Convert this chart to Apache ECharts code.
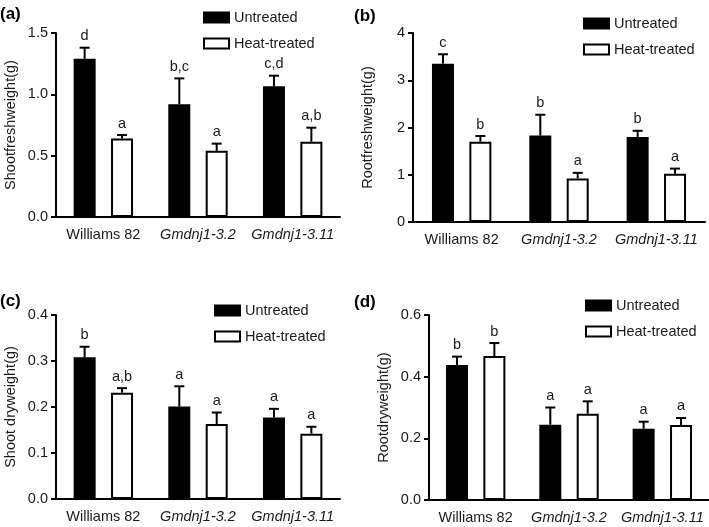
<!DOCTYPE html>
<html><head><meta charset="utf-8">
<script src="https://cdn.jsdelivr.net/npm/echarts@6/dist/echarts.min.js"></script>
<style>html,body{margin:0;padding:0;background:#fff}#c{width:709px;height:527px}</style>
</head><body><div id="c"></div>
<script>
const categories = ['Williams 82', 'Gmdnj1-3.2', 'Gmdnj1-3.11'];
const seriesNames = ['Untreated', 'Heat-treated'];

// (a) Shoot fresh weight
const shootFreshUntreated = [1.29, 0.92, 1.065];
const shootFreshUntreatedSD = [0.09, 0.21, 0.087];
const shootFreshHeat = [0.64, 0.54, 0.614];
const shootFreshHeatSD = [0.028, 0.058, 0.114];
const shootFreshUntreatedLetters = ['d', 'b,c', 'c,d'];
const shootFreshHeatLetters = ['a', 'a', 'a,b'];

// (b) Root fresh weight
const rootFreshUntreated = [3.35, 1.83, 1.80];
const rootFreshUntreatedSD = [0.20, 0.44, 0.13];
const rootFreshHeat = [1.70, 0.92, 1.02];
const rootFreshHeatSD = [0.12, 0.12, 0.11];
const rootFreshUntreatedLetters = ['c', 'b', 'b'];
const rootFreshHeatLetters = ['b', 'a', 'a'];

// (c) Shoot dry weight
const shootDryUntreated = [0.308, 0.201, 0.177];
const shootDryUntreatedSD = [0.023, 0.044, 0.019];
const shootDryHeat = [0.231, 0.163, 0.142];
const shootDryHeatSD = [0.010, 0.025, 0.015];
const shootDryUntreatedLetters = ['b', 'a', 'a'];
const shootDryHeatLetters = ['a,b', 'a', 'a'];

// (d) Root dry weight
const rootDryUntreated = [0.438, 0.244, 0.231];
const rootDryUntreatedSD = [0.027, 0.056, 0.023];
const rootDryHeat = [0.467, 0.280, 0.243];
const rootDryHeatSD = [0.042, 0.040, 0.023];
const rootDryUntreatedLetters = ['b', 'a', 'a'];
const rootDryHeatLetters = ['b', 'a', 'a'];

// axis ticks
const shootFreshTicks = {min: 0, max: 1.5, interval: 0.5, decimals: 1};
const rootFreshTicks = {min: 0, max: 4, interval: 1, decimals: 0};
const shootDryTicks = {min: 0, max: 0.4, interval: 0.1, decimals: 1};
const rootDryTicks = {min: 0, max: 0.6, interval: 0.2, decimals: 1};

const FONT = 'Liberation Sans, Arial, sans-serif';
const TXT = '#1a1a1a';
const FS = 14.5;
const BAR_W = 22;
const BAR_GAP = 0.7;
const OFF = (BAR_W + BAR_W * BAR_GAP) / 2;
const CAP = 5;

const panels = [
  {label: '(a)', lx: 0, ly: 6, title: 'Shootfreshweight(g)', ticks: shootFreshTicks,
   grid: {left: 56, top: 33, width: 284, height: 184}, legend: {left: 203, top: 10},
   u: shootFreshUntreated, uSD: shootFreshUntreatedSD, uL: shootFreshUntreatedLetters,
   h: shootFreshHeat, hSD: shootFreshHeatSD, hL: shootFreshHeatLetters},
  {label: '(b)', lx: 354, ly: 8, title: 'Rootfreshweight(g)', ticks: rootFreshTicks,
   grid: {left: 413, top: 33, width: 292, height: 189}, legend: {left: 583, top: 16},
   u: rootFreshUntreated, uSD: rootFreshUntreatedSD, uL: rootFreshUntreatedLetters,
   h: rootFreshHeat, hSD: rootFreshHeatSD, hL: rootFreshHeatLetters},
  {label: '(c)', lx: 0, ly: 293, title: 'Shoot dryweight(g)', ticks: shootDryTicks,
   grid: {left: 56, top: 315, width: 284, height: 184}, legend: {left: 214, top: 303},
   u: shootDryUntreated, uSD: shootDryUntreatedSD, uL: shootDryUntreatedLetters,
   h: shootDryHeat, hSD: shootDryHeatSD, hL: shootDryHeatLetters},
  {label: '(d)', lx: 354, ly: 294, title: 'Rootdryweight(g)', ticks: rootDryTicks,
   grid: {left: 429, top: 315, width: 280, height: 185}, legend: {left: 585, top: 298},
   u: rootDryUntreated, uSD: rootDryUntreatedSD, uL: rootDryUntreatedLetters,
   h: rootDryHeat, hSD: rootDryHeatSD, hL: rootDryHeatLetters}
];

function errSeries(gi, sign, vals, sds, letters) {
  return {
    type: 'custom', xAxisIndex: gi, yAxisIndex: gi, z: 5,
    data: vals.map((v, i) => [i, v, v + sds[i]]),
    renderItem: function (params, api) {
      const i = api.value(0);
      const p0 = api.coord([i, api.value(1)]);
      const p1 = api.coord([i, api.value(2)]);
      const cx = p0[0] + sign * OFF;
      return {type: 'group', children: [
        {type: 'line', shape: {x1: cx, y1: p0[1], x2: cx, y2: p1[1]}, style: {stroke: '#000', lineWidth: 2}},
        {type: 'line', shape: {x1: cx - CAP, y1: p1[1], x2: cx + CAP, y2: p1[1]}, style: {stroke: '#000', lineWidth: 2}},
        {type: 'text', x: cx, y: p1[1] - 4, style: {text: letters[params.dataIndex], fill: TXT,
          font: FS + 'px ' + FONT, textAlign: 'center', textVerticalAlign: 'bottom'}}
      ]};
    }
  };
}

const option = {
  animation: false,
  backgroundColor: '#fff',
  textStyle: {fontFamily: FONT},
  title: panels.map(p => ({text: p.label, left: p.lx, top: p.ly, padding: 0,
    textStyle: {fontSize: 17, fontWeight: 'bold', color: '#000', fontFamily: FONT}})),
  legend: panels.map(p => ({data: seriesNames, orient: 'vertical', left: p.legend.left, top: p.legend.top,
    padding: 0, icon: 'rect', itemWidth: 25, itemHeight: 10, itemGap: 11, selectedMode: false,
    textStyle: {fontSize: FS, color: TXT, fontFamily: FONT}})),
  grid: panels.map(p => p.grid),
  xAxis: panels.map((p, gi) => ({type: 'category', gridIndex: gi, data: categories,
    axisLine: {lineStyle: {color: '#000', width: 2}},
    axisTick: {alignWithLabel: true, length: 7, lineStyle: {color: '#000', width: 2}},
    axisLabel: {interval: 0, margin: 10, fontSize: FS, color: TXT, fontFamily: FONT,
      formatter: v => v.indexOf('Gmdnj') === 0 ? '{i|' + v + '}' : v,
      rich: {i: {fontStyle: 'italic', fontSize: FS, color: TXT, fontFamily: FONT}}}})),
  yAxis: panels.map((p, gi) => ({type: 'value', gridIndex: gi, min: p.ticks.min, max: p.ticks.max,
    interval: p.ticks.interval, name: p.title, nameLocation: 'middle', nameGap: 38,
    nameTextStyle: {fontSize: FS, color: TXT, fontFamily: FONT},
    splitLine: {show: false},
    axisLine: {show: true, lineStyle: {color: '#000', width: 2}},
    axisTick: {show: true, length: 5, lineStyle: {color: '#000', width: 2}},
    axisLabel: {margin: 8, fontSize: FS, color: TXT, fontFamily: FONT,
      formatter: v => v.toFixed(p.ticks.decimals)}})),
  series: []
};

panels.forEach((p, gi) => {
  option.series.push({name: 'Untreated', type: 'bar', xAxisIndex: gi, yAxisIndex: gi, data: p.u,
    barWidth: BAR_W, barGap: (BAR_GAP * 100) + '%',
    itemStyle: {color: '#000', borderColor: '#000', borderWidth: 2}});
  option.series.push({name: 'Heat-treated', type: 'bar', xAxisIndex: gi, yAxisIndex: gi, data: p.h,
    barWidth: BAR_W, barGap: (BAR_GAP * 100) + '%',
    itemStyle: {color: '#fff', borderColor: '#000', borderWidth: 2}});
  option.series.push(errSeries(gi, -1, p.u, p.uSD, p.uL));
  option.series.push(errSeries(gi, 1, p.h, p.hSD, p.hL));
});

const chart = echarts.init(document.getElementById('c'), null, {renderer: 'canvas'});
chart.setOption(option);
</script></body></html>
